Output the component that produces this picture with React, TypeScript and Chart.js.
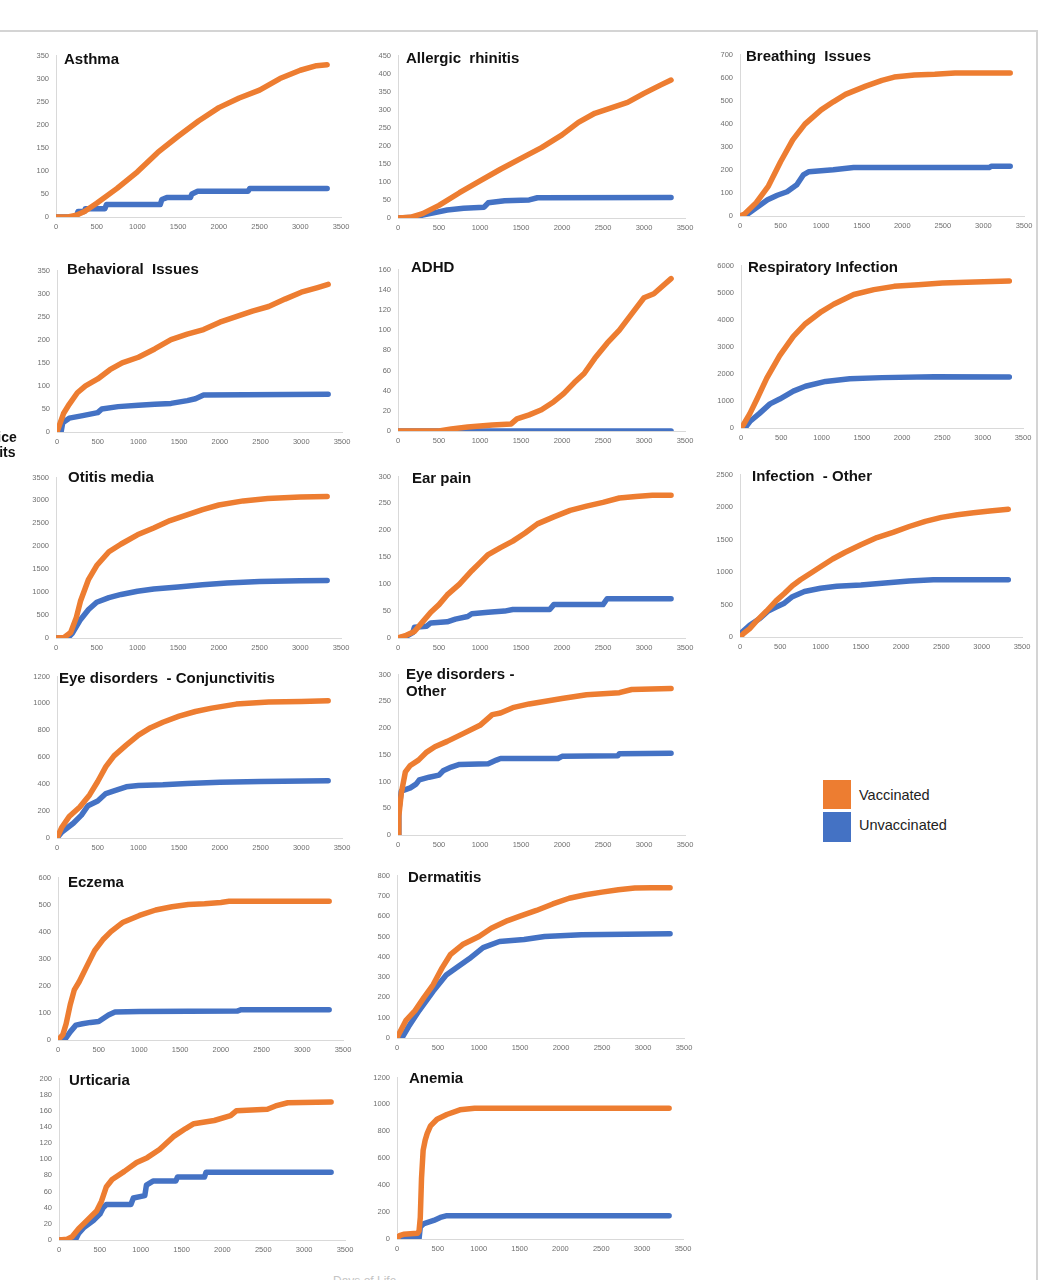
import { useEffect, useRef } from "react";
import Chart from "chart.js/auto";

const ORANGE = "#ED7D31";
const BLUE = "#4472C4";
const AXIS = "#d9d9d9";
const TICK = "#6f6f6f";

// x axis: days of life
const dayTicks = [0, 500, 1000, 1500, 2000, 2500, 3000, 3500];
const seriesNames = ["Vaccinated", "Unvaccinated"];

// [day, cumulative office visits]
const asthmaVac = [[0, 0], [150, 0], [250, 4], [350, 12], [500, 30], [750, 62], [1000, 98], [1250, 140], [1500, 175], [1750, 208], [2000, 237], [2250, 258], [2500, 275], [2750, 300], [3000, 318], [3200, 328], [3330, 330]];
const asthmaUnvac = [[0, 0], [250, 0], [270, 12], [350, 12], [360, 18], [600, 18], [620, 27], [1280, 27], [1300, 38], [1360, 42], [1650, 42], [1670, 50], [1740, 56], [2360, 56], [2380, 62], [3330, 62]];

const allergicVac = [[0, 0], [150, 2], [300, 12], [500, 35], [750, 70], [1000, 103], [1250, 135], [1500, 165], [1750, 195], [2000, 230], [2200, 265], [2400, 290], [2600, 305], [2800, 320], [3000, 345], [3200, 368], [3330, 382]];
const allergicUnvac = [[0, 0], [200, 2], [300, 8], [450, 15], [600, 22], [800, 27], [1050, 30], [1100, 42], [1300, 48], [1600, 50], [1700, 56], [3330, 57]];

const breathingVac = [[0, 0], [50, 7], [200, 58], [350, 130], [500, 235], [650, 330], [800, 398], [1000, 460], [1150, 495], [1300, 527], [1550, 563], [1750, 588], [1900, 602], [2150, 611], [2400, 614], [2650, 620], [3330, 620]];
const breathingUnvac = [[0, 0], [60, 0], [180, 30], [340, 70], [460, 90], [580, 105], [700, 135], [780, 178], [850, 192], [1150, 200], [1400, 210], [3070, 210], [3100, 216], [3330, 216]];

const behavioralVac = [[0, 0], [30, 15], [80, 40], [150, 60], [250, 85], [350, 100], [500, 115], [650, 135], [800, 150], [1000, 162], [1200, 180], [1400, 200], [1600, 212], [1800, 222], [2000, 238], [2200, 250], [2400, 262], [2600, 272], [2800, 288], [3000, 303], [3200, 313], [3330, 320]];
const behavioralUnvac = [[0, 0], [50, 0], [70, 20], [150, 30], [300, 35], [500, 42], [550, 50], [750, 55], [1000, 58], [1200, 60], [1400, 62], [1600, 68], [1700, 72], [1800, 80], [3330, 82]];

const adhdVac = [[0, 0], [500, 0], [650, 2], [850, 4], [1150, 6], [1380, 7], [1450, 12], [1600, 16], [1750, 21], [1900, 29], [2020, 37], [2150, 48], [2270, 57], [2400, 72], [2550, 87], [2700, 100], [2850, 116], [3000, 132], [3120, 136], [3330, 151]];
const adhdUnvac = [[0, 0], [3330, 0]];

const respiratoryVac = [[0, 0], [30, 120], [110, 530], [200, 1080], [320, 1840], [480, 2670], [650, 3380], [800, 3850], [1000, 4300], [1150, 4570], [1400, 4930], [1650, 5110], [1900, 5230], [2200, 5290], [2500, 5350], [2800, 5385], [3330, 5430]];
const respiratoryUnvac = [[0, 0], [50, 0], [110, 240], [230, 540], [360, 890], [480, 1070], [650, 1360], [800, 1540], [1050, 1720], [1350, 1815], [1750, 1860], [2400, 1895], [3330, 1880]];

const otitisVac = [[0, 0], [100, 10], [180, 120], [250, 450], [300, 800], [400, 1280], [500, 1580], [650, 1880], [800, 2050], [1000, 2250], [1200, 2400], [1400, 2560], [1600, 2680], [1800, 2800], [2000, 2900], [2300, 2990], [2600, 3040], [3000, 3075], [3330, 3085]];
const otitisUnvac = [[0, 0], [150, 10], [200, 100], [300, 400], [400, 620], [500, 780], [650, 880], [800, 950], [1000, 1020], [1200, 1070], [1500, 1110], [1800, 1160], [2100, 1200], [2500, 1230], [3000, 1250], [3330, 1255]];

const earVac = [[0, 0], [100, 5], [200, 12], [300, 30], [400, 48], [500, 62], [600, 80], [750, 100], [900, 125], [1000, 140], [1100, 155], [1250, 168], [1400, 180], [1550, 195], [1700, 212], [1900, 225], [2100, 237], [2300, 245], [2500, 252], [2700, 260], [2900, 263], [3100, 265], [3330, 265]];
const earUnvac = [[0, 0], [100, 3], [180, 10], [200, 20], [350, 22], [400, 28], [600, 30], [700, 35], [850, 40], [900, 45], [1100, 48], [1300, 50], [1400, 53], [1850, 53], [1900, 62], [2500, 62], [2550, 73], [3330, 73]];

const infectionVac = [[0, 0], [50, 60], [120, 130], [200, 240], [330, 400], [450, 560], [550, 670], [650, 790], [750, 880], [900, 1000], [1000, 1080], [1150, 1200], [1300, 1300], [1500, 1420], [1700, 1530], [1900, 1610], [2100, 1700], [2300, 1780], [2500, 1840], [2700, 1880], [2900, 1910], [3100, 1940], [3330, 1965]];
const infectionUnvac = [[0, 0], [30, 80], [120, 180], [250, 290], [350, 400], [450, 460], [550, 520], [650, 620], [800, 700], [1000, 750], [1200, 780], [1500, 800], [1800, 830], [2100, 860], [2400, 880], [2700, 880], [3330, 880]];

const conjVac = [[0, 0], [60, 80], [150, 160], [280, 230], [400, 320], [500, 420], [600, 530], [700, 610], [850, 690], [1000, 765], [1150, 820], [1300, 860], [1500, 905], [1700, 940], [1900, 965], [2200, 995], [2600, 1010], [3000, 1015], [3330, 1020]];
const conjUnvac = [[0, 0], [60, 45], [200, 110], [300, 170], [380, 240], [500, 275], [600, 330], [700, 350], [850, 380], [1000, 390], [1300, 395], [1600, 405], [2000, 415], [2500, 420], [3330, 425]];

const eyeOtherVac = [[0, 0], [10, 35], [40, 78], [90, 118], [150, 130], [250, 140], [350, 155], [450, 165], [600, 175], [800, 190], [1000, 205], [1150, 225], [1250, 228], [1400, 238], [1600, 245], [1800, 250], [2000, 255], [2300, 262], [2700, 266], [2850, 272], [3330, 274]];
const eyeOtherUnvac = [[0, 0], [10, 45], [40, 82], [150, 88], [220, 95], [260, 103], [380, 108], [500, 112], [550, 120], [650, 127], [750, 132], [1100, 133], [1200, 140], [1250, 143], [1950, 143], [2000, 147], [2680, 148], [2700, 152], [3330, 153]];

const eczemaVac = [[0, 0], [60, 20], [100, 60], [150, 130], [200, 185], [260, 215], [350, 270], [450, 330], [550, 370], [650, 400], [800, 435], [1000, 460], [1200, 480], [1400, 492], [1600, 500], [1800, 503], [2000, 508], [2100, 512], [3330, 512]];
const eczemaUnvac = [[0, 0], [80, 0], [150, 30], [220, 55], [300, 60], [400, 65], [500, 68], [560, 80], [620, 92], [700, 103], [1000, 105], [2200, 107], [2250, 112], [3330, 112]];

const dermatitisVac = [[0, 0], [30, 25], [110, 87], [220, 135], [330, 200], [440, 262], [550, 345], [650, 410], [800, 460], [1000, 500], [1150, 540], [1350, 578], [1500, 600], [1700, 628], [1900, 660], [2100, 688], [2300, 705], [2500, 718], [2700, 730], [2900, 738], [3100, 740], [3330, 740]];
const dermatitisUnvac = [[0, 0], [60, 0], [140, 55], [270, 135], [440, 230], [600, 310], [720, 345], [880, 390], [1050, 445], [1250, 475], [1550, 485], [1800, 500], [2250, 508], [3330, 513]];

const urticariaVac = [[0, 0], [100, 1], [160, 4], [240, 14], [300, 20], [380, 28], [460, 36], [520, 48], [580, 66], [650, 75], [800, 85], [950, 96], [1080, 102], [1230, 112], [1400, 128], [1550, 138], [1650, 144], [1900, 148], [2100, 154], [2170, 160], [2550, 162], [2650, 166], [2800, 170], [3330, 171]];
const urticariaUnvac = [[0, 0], [200, 0], [240, 8], [300, 15], [420, 24], [500, 32], [540, 40], [580, 44], [880, 44], [910, 52], [1050, 55], [1070, 68], [1150, 73], [1430, 73], [1450, 78], [1780, 78], [1800, 84], [3330, 84]];

const anemiaVac = [[0, 0], [30, 25], [80, 35], [250, 42], [270, 60], [285, 160], [300, 450], [320, 660], [345, 735], [370, 785], [410, 840], [490, 890], [610, 925], [770, 960], [950, 972], [3330, 972]];
const anemiaUnvac = [[0, 0], [270, 3], [285, 90], [330, 115], [450, 138], [530, 160], [600, 172], [3330, 172]];

type Panel = {
	title: string;
	vac: number[][];
	unvac: number[][];
	yMax: number;
	yStep: number;
	x0: number;
	top: number;
	zero: number;
	plotW: number;
	titleX: number;
	titleY: number;
};

const panels: Panel[] = [
	{ title: "Asthma", vac: asthmaVac, unvac: asthmaUnvac, yMax: 350, yStep: 50, x0: 56, top: 50, zero: 217, plotW: 285, titleX: 64, titleY: 50 },
	{ title: "Allergic  rhinitis", vac: allergicVac, unvac: allergicUnvac, yMax: 450, yStep: 50, x0: 398, top: 50, zero: 218, plotW: 287, titleX: 406, titleY: 49 },
	{ title: "Breathing  Issues", vac: breathingVac, unvac: breathingUnvac, yMax: 700, yStep: 100, x0: 740, top: 49, zero: 216, plotW: 284, titleX: 746, titleY: 47 },
	{ title: "Behavioral  Issues", vac: behavioralVac, unvac: behavioralUnvac, yMax: 350, yStep: 50, x0: 57, top: 265, zero: 432, plotW: 285, titleX: 67, titleY: 260 },
	{ title: "ADHD", vac: adhdVac, unvac: adhdUnvac, yMax: 160, yStep: 20, x0: 398, top: 264, zero: 431, plotW: 287, titleX: 411, titleY: 258 },
	{ title: "Respiratory Infection", vac: respiratoryVac, unvac: respiratoryUnvac, yMax: 6000, yStep: 1000, x0: 741, top: 260, zero: 428, plotW: 282, titleX: 748, titleY: 258 },
	{ title: "Otitis media", vac: otitisVac, unvac: otitisUnvac, yMax: 3500, yStep: 500, x0: 56, top: 472, zero: 638, plotW: 285, titleX: 68, titleY: 468 },
	{ title: "Ear pain", vac: earVac, unvac: earUnvac, yMax: 300, yStep: 50, x0: 398, top: 471, zero: 638, plotW: 287, titleX: 412, titleY: 469 },
	{ title: "Infection  - Other", vac: infectionVac, unvac: infectionUnvac, yMax: 2500, yStep: 500, x0: 740, top: 469, zero: 637, plotW: 282, titleX: 752, titleY: 467 },
	{ title: "Eye disorders  - Conjunctivitis", vac: conjVac, unvac: conjUnvac, yMax: 1200, yStep: 200, x0: 57, top: 671, zero: 838, plotW: 285, titleX: 59, titleY: 669 },
	{ title: "Eye disorders -\nOther", vac: eyeOtherVac, unvac: eyeOtherUnvac, yMax: 300, yStep: 50, x0: 398, top: 669, zero: 835, plotW: 287, titleX: 406, titleY: 665 },
	{ title: "Eczema", vac: eczemaVac, unvac: eczemaUnvac, yMax: 600, yStep: 100, x0: 58, top: 872, zero: 1040, plotW: 285, titleX: 68, titleY: 873 },
	{ title: "Dermatitis", vac: dermatitisVac, unvac: dermatitisUnvac, yMax: 800, yStep: 100, x0: 397, top: 870, zero: 1038, plotW: 287, titleX: 408, titleY: 868 },
	{ title: "Urticaria", vac: urticariaVac, unvac: urticariaUnvac, yMax: 200, yStep: 20, x0: 59, top: 1073, zero: 1240, plotW: 286, titleX: 69, titleY: 1071 },
	{ title: "Anemia", vac: anemiaVac, unvac: anemiaUnvac, yMax: 1200, yStep: 200, x0: 397, top: 1072, zero: 1239, plotW: 286, titleX: 409, titleY: 1069 },
];

const Y_AXIS_W = 34;
const X_AXIS_H = 22;
const PAD_T = 6;
const PAD_R = 14;
const FONT = '"Liberation Sans", Arial, sans-serif';

function MiniChart({ p }: { p: Panel }) {
	const canvasRef = useRef<HTMLCanvasElement>(null);
	const W = Y_AXIS_W + p.plotW + PAD_R;
	const H = PAD_T + (p.zero - p.top) + X_AXIS_H;

	useEffect(() => {
		if (!canvasRef.current) return;
		const line = (label: string, pts: number[][], color: string) => ({
			label,
			data: pts.map(([x, y]) => ({ x, y })),
			borderColor: color,
			backgroundColor: color,
			borderWidth: 5.5,
			pointRadius: 0,
			tension: 0,
			borderJoinStyle: "round" as const,
			borderCapStyle: "round" as const,
		});
		const tickFont = { family: FONT, size: 7.5 };
		const chart = new Chart(canvasRef.current, {
			type: "line",
			data: {
				datasets: [
					line(seriesNames[0], p.vac, ORANGE),
					line(seriesNames[1], p.unvac, BLUE),
				],
			},
			options: {
				animation: false,
				responsive: true,
				maintainAspectRatio: false,
				layout: { padding: { top: PAD_T, right: PAD_R, left: 0, bottom: 0 } },
				plugins: { legend: { display: false }, tooltip: { enabled: false } },
				scales: {
					x: {
						type: "linear",
						min: dayTicks[0],
						max: dayTicks[dayTicks.length - 1],
						afterBuildTicks: (s: any) => {
							s.ticks = dayTicks.map((v) => ({ value: v }));
						},
						ticks: {
							font: tickFont,
							color: TICK,
							padding: 5,
							maxRotation: 0,
							autoSkip: false,
							callback: (v: any) => String(v),
						},
						grid: { display: false, drawTicks: false },
						border: { color: AXIS, width: 1 },
						afterFit: (s: any) => {
							s.height = X_AXIS_H;
						},
					},
					y: {
						min: 0,
						max: p.yMax,
						ticks: {
							stepSize: p.yStep,
							font: tickFont,
							color: TICK,
							padding: 7,
							callback: (v: any) => String(v),
						},
						grid: { display: false, drawTicks: false },
						border: { color: AXIS, width: 1 },
						afterFit: (s: any) => {
							s.width = Y_AXIS_W;
						},
					},
				},
			},
		});
		return () => chart.destroy();
	}, [p]);

	return (
		<>
			<div
				style={{
					position: "absolute",
					left: p.x0 - Y_AXIS_W,
					top: p.top - PAD_T,
					width: W,
					height: H,
				}}
			>
				<canvas ref={canvasRef}></canvas>
			</div>
			<div
				style={{
					position: "absolute",
					left: p.titleX,
					top: p.titleY,
					font: `bold 15px ${FONT}`,
					lineHeight: "17px",
					color: "#111",
					whiteSpace: "pre",
				}}
			>
				{p.title}
			</div>
		</>
	);
}

export default function App() {
	return (
		<div
			style={{
				position: "fixed",
				left: 0,
				top: 0,
				width: 1057,
				height: 1280,
				overflow: "hidden",
				background: "#fff",
				fontFamily: FONT,
			}}
		>
			<div
				style={{
					position: "absolute",
					left: -12,
					top: 30,
					width: 1048,
					height: 1300,
					borderTop: "2px solid #d4d4d4",
					borderRight: "2px solid #d4d4d4",
				}}
			></div>
			{panels.map((p) => (
				<MiniChart key={p.title} p={p} />
			))}
			<div
				style={{
					position: "absolute",
					left: -24,
					top: 430,
					width: 42,
					textAlign: "center",
					font: `bold 14px ${FONT}`,
					lineHeight: "15px",
					color: "#111",
				}}
			>
				Office
				<br />
				Visits
			</div>
			<div style={{ position: "absolute", left: 823, top: 780, width: 28, height: 29, background: ORANGE }}></div>
			<div style={{ position: "absolute", left: 823, top: 812, width: 28, height: 30, background: BLUE }}></div>
			<div style={{ position: "absolute", left: 859, top: 786, fontSize: 14.5, lineHeight: "18px", color: "#222" }}>
				{seriesNames[0]}
			</div>
			<div style={{ position: "absolute", left: 859, top: 816, fontSize: 14.5, lineHeight: "18px", color: "#222" }}>
				{seriesNames[1]}
			</div>
			<div
				style={{
					position: "absolute",
					left: 333,
					top: 1274,
					fontSize: 12,
					lineHeight: "14px",
					color: "#c4c4c4",
				}}
			>
				Days of Life
			</div>
		</div>
	);
}
